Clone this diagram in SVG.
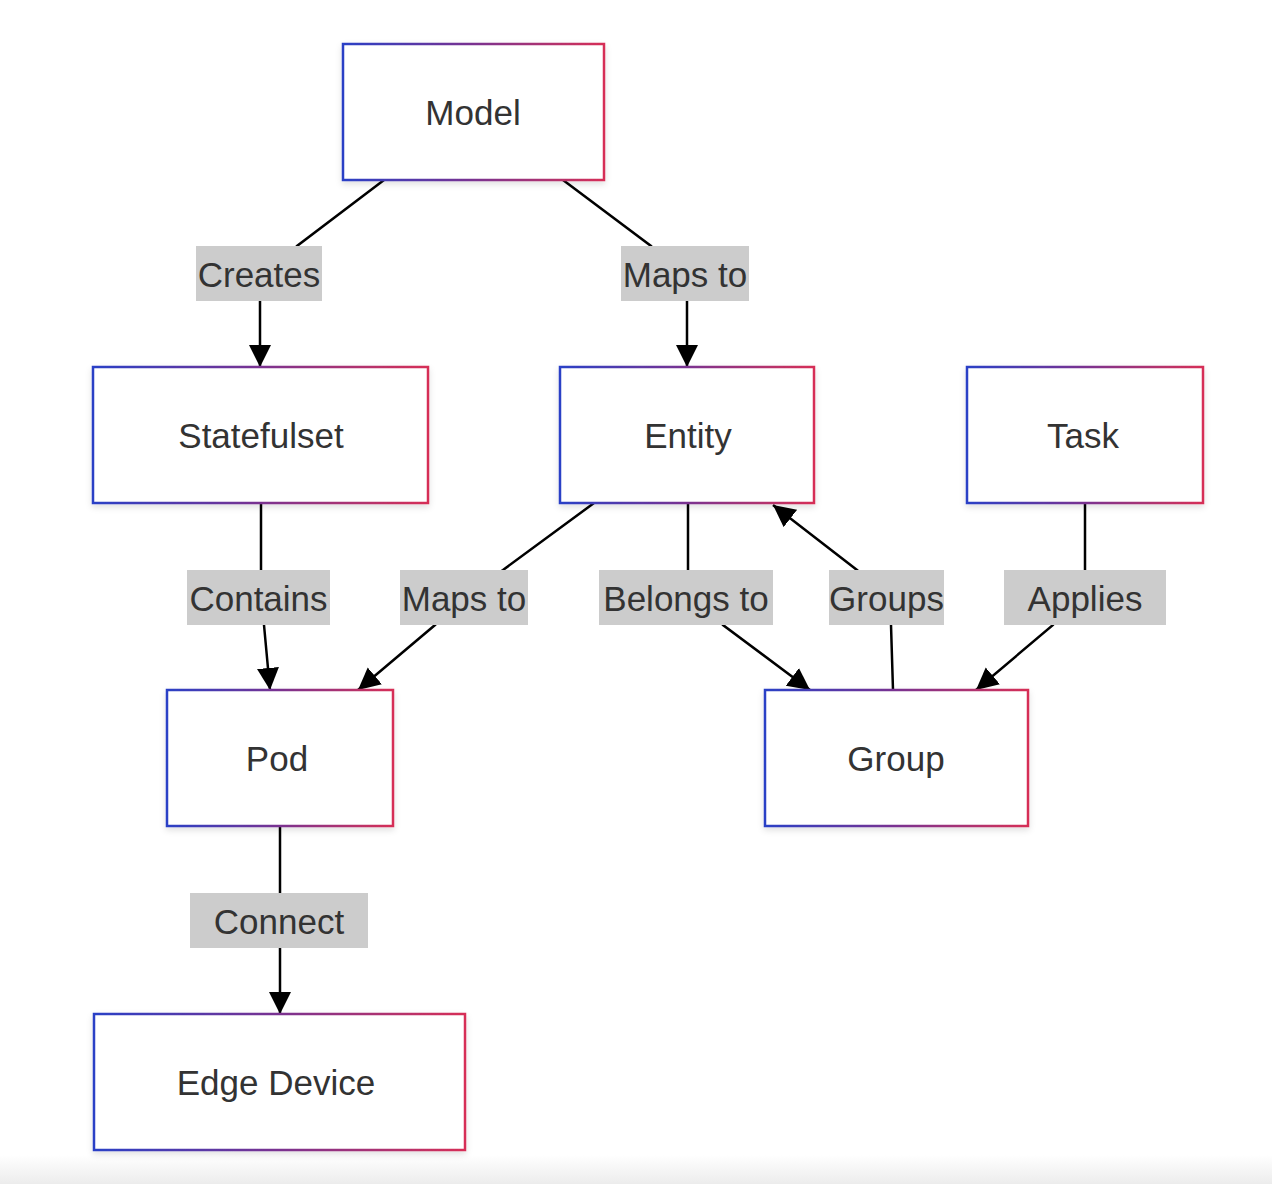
<svg xmlns="http://www.w3.org/2000/svg" width="1272" height="1184" viewBox="0 0 1272 1184">
<defs>
<linearGradient id="bord" x1="0" y1="0" x2="1" y2="0">
<stop offset="0" stop-color="#2a40c6"/>
<stop offset="0.5" stop-color="#7a3290"/>
<stop offset="1" stop-color="#d62f57"/>
</linearGradient>
<linearGradient id="floor" x1="0" y1="0" x2="0" y2="1">
<stop offset="0" stop-color="#ffffff"/>
<stop offset="1" stop-color="#ececec"/>
</linearGradient>
<filter id="sh" x="-10%" y="-10%" width="120%" height="130%">
<feDropShadow dx="0" dy="3" stdDeviation="3" flood-color="#000" flood-opacity="0.12"/>
</filter>
<marker id="arr" markerUnits="userSpaceOnUse" markerWidth="24" markerHeight="24" refX="22" refY="11" orient="auto">
<path d="M0,0 L22,11 L0,22 Z" fill="#000"/>
</marker>
</defs>
<style>
.node rect{fill:#fff;stroke:url(#bord);stroke-width:2.5;filter:url(#sh)}
.node text{font-family:"Liberation Sans",Arial,sans-serif;font-size:35px;fill:#333;text-anchor:middle;dominant-baseline:central}
.edge{fill:none;stroke:#000;stroke-width:2.5}
.lbl rect{fill:#cccccc}
.lbl text{font-family:"Liberation Sans",Arial,sans-serif;font-size:35px;fill:#333;text-anchor:middle;dominant-baseline:central}
</style>
<rect x="0" y="1155" width="1272" height="29" fill="url(#floor)"/>
<g id="connectors">
<path class="edge" d="M384,180 L297,246 L260,290 L260,367" marker-end="url(#arr)"/>
<path class="edge" d="M563,180 L651,246 L687,290 L687,367" marker-end="url(#arr)"/>
<path class="edge" d="M261,503 L261,580 L264,625 L270,690" marker-end="url(#arr)"/>
<path class="edge" d="M594,503 L503,570 L460,600 L435,625 L358,690" marker-end="url(#arr)"/>
<path class="edge" d="M688,503 L688,580 L723,625 L810,690" marker-end="url(#arr)"/>
<path class="edge" d="M893,690 L891,625 L880,590 L857,570 L773,505" marker-end="url(#arr)"/>
<path class="edge" d="M1085,503 L1085,580 L1053,625 L976,690" marker-end="url(#arr)"/>
<path class="edge" d="M280,826 L280,1014" marker-end="url(#arr)"/>
</g>
<g id="labels">
<g class="lbl"><rect x="196" y="246" width="126" height="55"/><text x="259" y="274">Creates</text></g>
<g class="lbl"><rect x="621" y="246" width="128" height="55"/><text x="685" y="274">Maps to</text></g>
<g class="lbl"><rect x="187" y="570" width="143" height="55"/><text x="258.5" y="598">Contains</text></g>
<g class="lbl"><rect x="400" y="570" width="128" height="55"/><text x="464" y="598">Maps to</text></g>
<g class="lbl"><rect x="599" y="570" width="174" height="55"/><text x="686" y="598">Belongs to</text></g>
<g class="lbl"><rect x="829" y="570" width="115" height="55"/><text x="886.5" y="598">Groups</text></g>
<g class="lbl"><rect x="1004" y="570" width="162" height="55"/><text x="1085" y="598">Applies</text></g>
<g class="lbl"><rect x="190" y="893" width="178" height="55"/><text x="279" y="921">Connect</text></g>
</g>
<g id="model" class="node"><rect x="343" y="44" width="261" height="136"/><text x="473" y="112">Model</text></g>
<g id="statefulset" class="node"><rect x="93" y="367" width="335" height="136"/><text x="261" y="435">Statefulset</text></g>
<g id="entity" class="node"><rect x="560" y="367" width="254" height="136"/><text x="688" y="435">Entity</text></g>
<g id="task" class="node"><rect x="967" y="367" width="236" height="136"/><text x="1083" y="435">Task</text></g>
<g id="pod" class="node"><rect x="167" y="690" width="226" height="136"/><text x="277" y="758">Pod</text></g>
<g id="group" class="node"><rect x="765" y="690" width="263" height="136"/><text x="896" y="758">Group</text></g>
<g id="edge-device" class="node"><rect x="94" y="1014" width="371" height="136"/><text x="276" y="1082">Edge Device</text></g>
</svg>
